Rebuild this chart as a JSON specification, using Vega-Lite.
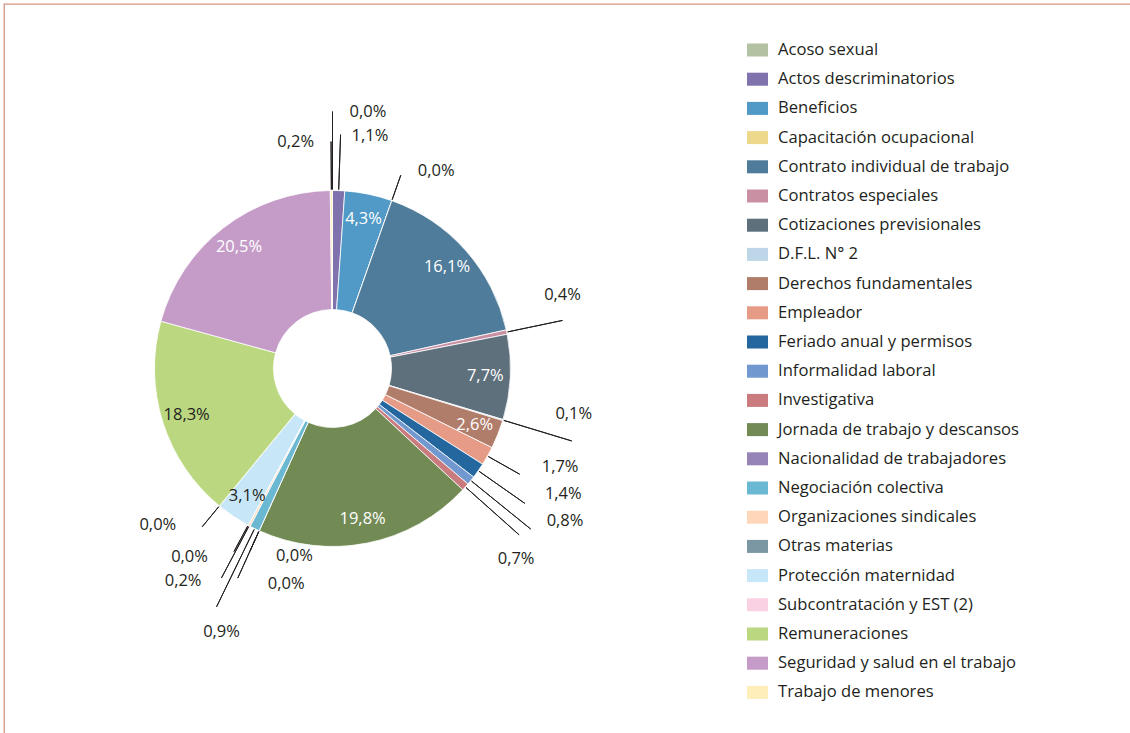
{
  "$schema": "https://vega.github.io/schema/vega-lite/v6.json",
  "width": 1127,
  "height": 730,
  "padding": {"left": 4, "top": 4, "right": -1, "bottom": -1},
  "autosize": {"type": "none"},
  "background": "#ffffff",
  "config": {
    "view": {"stroke": "#d9927f", "strokeWidth": 1.3},
    "text": {"font": "Open Sans", "fontSize": 16.5, "baseline": "middle", "color": "#231f20"}
  },
  "data": {
    "values": [
      {"i": 1, "cat": "Acoso sexual", "v": 0, "lab": "0,0%"},
      {"i": 2, "cat": "Actos descriminatorios", "v": 1.1, "lab": "1,1%"},
      {"i": 3, "cat": "Beneficios", "v": 4.3, "lab": "4,3%"},
      {"i": 4, "cat": "Capacitación ocupacional", "v": 0, "lab": "0,0%"},
      {"i": 5, "cat": "Contrato individual de trabajo", "v": 16.1, "lab": "16,1%"},
      {"i": 6, "cat": "Contratos especiales", "v": 0.4, "lab": "0,4%"},
      {"i": 7, "cat": "Cotizaciones previsionales", "v": 7.7, "lab": "7,7%"},
      {"i": 8, "cat": "D.F.L. N° 2", "v": 0.1, "lab": "0,1%"},
      {"i": 9, "cat": "Derechos fundamentales", "v": 2.6, "lab": "2,6%"},
      {"i": 10, "cat": "Empleador", "v": 1.7, "lab": "1,7%"},
      {"i": 11, "cat": "Feriado anual y permisos", "v": 1.4, "lab": "1,4%"},
      {"i": 12, "cat": "Informalidad laboral", "v": 0.8, "lab": "0,8%"},
      {"i": 13, "cat": "Investigativa", "v": 0.7, "lab": "0,7%"},
      {"i": 14, "cat": "Jornada de trabajo y descansos", "v": 19.8, "lab": "19,8%"},
      {"i": 15, "cat": "Nacionalidad de trabajadores", "v": 0, "lab": "0,0%"},
      {"i": 16, "cat": "Sin leyenda", "v": 0, "lab": "0,0%"},
      {"i": 17, "cat": "Negociación colectiva", "v": 0.9, "lab": "0,9%"},
      {"i": 18, "cat": "Organizaciones sindicales", "v": 0.2, "lab": "0,2%"},
      {"i": 19, "cat": "Otras materias", "v": 0, "lab": "0,0%"},
      {"i": 20, "cat": "Protección maternidad", "v": 3.1, "lab": "3,1%"},
      {"i": 21, "cat": "Subcontratación y EST (2)", "v": 0, "lab": "0,0%"},
      {"i": 22, "cat": "Remuneraciones", "v": 18.3, "lab": "18,3%"},
      {"i": 23, "cat": "Seguridad y salud en el trabajo", "v": 20.5, "lab": "20,5%"},
      {"i": 24, "cat": "Trabajo de menores", "v": 0.2, "lab": "0,2%"}
    ]
  },
  "transform": [
    {"stack": "v", "groupby": [], "sort": [{"field": "i", "order": "ascending"}], "as": ["s0", "s1"]},
    {"calculate": "(datum.s0 + datum.s1) / 2", "as": "mid"}
  ],
  "layer": [
    {
      "mark": {"type": "point", "opacity": 0},
      "encoding": {
        "x": {"field": "i", "type": "quantitative", "axis": null},
        "y": {"field": "v", "type": "quantitative", "axis": null}
      }
    },
    {
      "transform": [{"filter": "datum.cat !== 'Sin leyenda'"}],
      "mark": {"type": "arc", "x": 328.5, "y": 364.5, "radius": 178, "radius2": 59, "stroke": "#ffffff", "strokeWidth": 0.8},
      "encoding": {
        "theta": {"field": "s0", "type": "quantitative", "stack": null, "scale": {"domain": [0, 99.9]}},
        "theta2": {"field": "s1"},
        "color": {
          "field": "cat", "type": "nominal",
          "scale": {
            "domain": ["Acoso sexual", "Actos descriminatorios", "Beneficios", "Capacitación ocupacional", "Contrato individual de trabajo", "Contratos especiales", "Cotizaciones previsionales", "D.F.L. N° 2", "Derechos fundamentales", "Empleador", "Feriado anual y permisos", "Informalidad laboral", "Investigativa", "Jornada de trabajo y descansos", "Nacionalidad de trabajadores", "Negociación colectiva", "Organizaciones sindicales", "Otras materias", "Protección maternidad", "Subcontratación y EST (2)", "Remuneraciones", "Seguridad y salud en el trabajo", "Trabajo de menores"],
            "range": ["#b4c2a4", "#7f72ad", "#5199c6", "#eed88c", "#4e7c9a", "#c98fa3", "#5f707d", "#bdd7e9", "#b07d6b", "#e69b87", "#24679f", "#7198cf", "#c97b7d", "#728b55", "#9584b5", "#6bb8d3", "#fed6b9", "#7a97a3", "#c7e7f8", "#f9d1e3", "#bbd881", "#c59bc8", "#feeeb9"]
          },
          "legend": {
            "orient": "none", "legendX": 743, "legendY": 35.5, "title": null,
            "symbolType": "M-1,-0.62H1V0.62H-1Z", "symbolSize": 441, "symbolStrokeWidth": 0, "symbolOpacity": 1,
            "labelFont": "Open Sans", "labelFontSize": 16.6, "labelColor": "#231f20", "labelOffset": 10,
            "rowPadding": 9.2, "labelLimit": 400
          }
        }
      }
    },
    {
      "transform": [{"filter": "datum.v >= 2.5"}],
      "mark": {"type": "text", "x": 328.5, "y": 364.5, "radius": 153, "align": "center"},
      "encoding": {
        "theta": {"field": "mid", "type": "quantitative", "stack": null, "scale": {"domain": [0, 99.9]}},
        "text": {"field": "lab"},
        "color": {"condition": {"test": "datum.cat === 'Remuneraciones' || datum.cat === 'Protección maternidad'", "value": "#231f20"}, "value": "#ffffff"}
      }
    },
    {"transform": [{"filter": "datum.i === 1"}], "layer": [
      {"mark": {"type": "arc", "x": 328.5, "y": 364.5, "radius": 257, "radius2": 179, "fillOpacity": 0, "stroke": "#231f20", "strokeWidth": 1}, "encoding": {"theta": {"field": "mid", "type": "quantitative", "stack": null, "scale": {"domain": [0, 99.9]}}, "theta2": {"field": "mid"}}},
      {"mark": {"type": "text", "x": 328.5, "y": 364.5, "radius": 257, "align": "left", "dx": 17, "dy": 0}, "encoding": {"theta": {"field": "mid", "type": "quantitative", "stack": null, "scale": {"domain": [0, 99.9]}}, "text": {"field": "lab"}}}
    ]},
    {"transform": [{"filter": "datum.i === 2"}], "layer": [
      {"mark": {"type": "arc", "x": 328.5, "y": 364.5, "radius": 234, "radius2": 179, "fillOpacity": 0, "stroke": "#231f20", "strokeWidth": 1}, "encoding": {"theta": {"field": "mid", "type": "quantitative", "stack": null, "scale": {"domain": [0, 99.9]}}, "theta2": {"field": "mid"}}},
      {"mark": {"type": "text", "x": 328.5, "y": 364.5, "radius": 234, "align": "left", "dx": 11, "dy": 1}, "encoding": {"theta": {"field": "mid", "type": "quantitative", "stack": null, "scale": {"domain": [0, 99.9]}}, "text": {"field": "lab"}}}
    ]},
    {"transform": [{"filter": "datum.i === 24"}], "layer": [
      {"mark": {"type": "arc", "x": 328.5, "y": 364.5, "radius": 227, "radius2": 179, "fillOpacity": 0, "stroke": "#231f20", "strokeWidth": 1}, "encoding": {"theta": {"field": "mid", "type": "quantitative", "stack": null, "scale": {"domain": [0, 99.9]}}, "theta2": {"field": "mid"}}},
      {"mark": {"type": "text", "x": 328.5, "y": 364.5, "radius": 227, "align": "right", "dx": -17, "dy": 0}, "encoding": {"theta": {"field": "mid", "type": "quantitative", "stack": null, "scale": {"domain": [0, 99.9]}}, "text": {"field": "lab"}}}
    ]},
    {"transform": [{"filter": "datum.i === 4"}], "layer": [
      {"mark": {"type": "arc", "x": 328.5, "y": 364.5, "radius": 205, "radius2": 179, "fillOpacity": 0, "stroke": "#231f20", "strokeWidth": 1}, "encoding": {"theta": {"field": "mid", "type": "quantitative", "stack": null, "scale": {"domain": [0, 99.9]}}, "theta2": {"field": "mid"}}},
      {"mark": {"type": "text", "x": 328.5, "y": 364.5, "radius": 205, "align": "left", "dx": 17, "dy": -4}, "encoding": {"theta": {"field": "mid", "type": "quantitative", "stack": null, "scale": {"domain": [0, 99.9]}}, "text": {"field": "lab"}}}
    ]},
    {"transform": [{"filter": "datum.i === 6"}], "layer": [
      {"mark": {"type": "arc", "x": 328.5, "y": 364.5, "radius": 235, "radius2": 179, "fillOpacity": 0, "stroke": "#231f20", "strokeWidth": 1}, "encoding": {"theta": {"field": "mid", "type": "quantitative", "stack": null, "scale": {"domain": [0, 99.9]}}, "theta2": {"field": "mid"}}},
      {"mark": {"type": "text", "x": 328.5, "y": 364.5, "radius": 235, "align": "center", "dx": 0, "dy": -25}, "encoding": {"theta": {"field": "mid", "type": "quantitative", "stack": null, "scale": {"domain": [0, 99.9]}}, "text": {"field": "lab"}}}
    ]},
    {"transform": [{"filter": "datum.i === 8"}], "layer": [
      {"mark": {"type": "arc", "x": 328.5, "y": 364.5, "radius": 250, "radius2": 179, "fillOpacity": 0, "stroke": "#231f20", "strokeWidth": 1}, "encoding": {"theta": {"field": "mid", "type": "quantitative", "stack": null, "scale": {"domain": [0, 99.9]}}, "theta2": {"field": "mid"}}},
      {"mark": {"type": "text", "x": 328.5, "y": 364.5, "radius": 250, "align": "center", "dx": 2, "dy": -27}, "encoding": {"theta": {"field": "mid", "type": "quantitative", "stack": null, "scale": {"domain": [0, 99.9]}}, "text": {"field": "lab"}}}
    ]},
    {"transform": [{"filter": "datum.i === 10"}], "layer": [
      {"mark": {"type": "arc", "x": 328.5, "y": 364.5, "radius": 215, "radius2": 179, "fillOpacity": 0, "stroke": "#231f20", "strokeWidth": 1}, "encoding": {"theta": {"field": "mid", "type": "quantitative", "stack": null, "scale": {"domain": [0, 99.9]}}, "theta2": {"field": "mid"}}},
      {"mark": {"type": "text", "x": 328.5, "y": 364.5, "radius": 215, "align": "left", "dx": 22, "dy": -7}, "encoding": {"theta": {"field": "mid", "type": "quantitative", "stack": null, "scale": {"domain": [0, 99.9]}}, "text": {"field": "lab"}}}
    ]},
    {"transform": [{"filter": "datum.i === 11"}], "layer": [
      {"mark": {"type": "arc", "x": 328.5, "y": 364.5, "radius": 235, "radius2": 179, "fillOpacity": 0, "stroke": "#231f20", "strokeWidth": 1}, "encoding": {"theta": {"field": "mid", "type": "quantitative", "stack": null, "scale": {"domain": [0, 99.9]}}, "theta2": {"field": "mid"}}},
      {"mark": {"type": "text", "x": 328.5, "y": 364.5, "radius": 235, "align": "left", "dx": 20, "dy": -9}, "encoding": {"theta": {"field": "mid", "type": "quantitative", "stack": null, "scale": {"domain": [0, 99.9]}}, "text": {"field": "lab"}}}
    ]},
    {"transform": [{"filter": "datum.i === 12"}], "layer": [
      {"mark": {"type": "arc", "x": 328.5, "y": 364.5, "radius": 255, "radius2": 179, "fillOpacity": 0, "stroke": "#231f20", "strokeWidth": 1}, "encoding": {"theta": {"field": "mid", "type": "quantitative", "stack": null, "scale": {"domain": [0, 99.9]}}, "theta2": {"field": "mid"}}},
      {"mark": {"type": "text", "x": 328.5, "y": 364.5, "radius": 255, "align": "left", "dx": 16, "dy": -8}, "encoding": {"theta": {"field": "mid", "type": "quantitative", "stack": null, "scale": {"domain": [0, 99.9]}}, "text": {"field": "lab"}}}
    ]},
    {"transform": [{"filter": "datum.i === 13"}], "layer": [
      {"mark": {"type": "arc", "x": 328.5, "y": 364.5, "radius": 250, "radius2": 179, "fillOpacity": 0, "stroke": "#231f20", "strokeWidth": 1}, "encoding": {"theta": {"field": "mid", "type": "quantitative", "stack": null, "scale": {"domain": [0, 99.9]}}, "theta2": {"field": "mid"}}},
      {"mark": {"type": "text", "x": 328.5, "y": 364.5, "radius": 250, "align": "center", "dx": -3, "dy": 24}, "encoding": {"theta": {"field": "mid", "type": "quantitative", "stack": null, "scale": {"domain": [0, 99.9]}}, "text": {"field": "lab"}}}
    ]},
    {"transform": [{"filter": "datum.i === 15"}], "layer": [
      {"mark": {"type": "arc", "x": 328.5, "y": 364.5, "radius": 200, "radius2": 179, "fillOpacity": 0, "stroke": "#231f20", "strokeWidth": 1}, "encoding": {"theta": {"field": "mid", "type": "quantitative", "stack": null, "scale": {"domain": [0, 99.9]}}, "theta2": {"field": "mid"}}},
      {"mark": {"type": "text", "x": 328.5, "y": 364.5, "radius": 200, "align": "left", "dx": 26, "dy": 5}, "encoding": {"theta": {"field": "mid", "type": "quantitative", "stack": null, "scale": {"domain": [0, 99.9]}}, "text": {"field": "lab"}}}
    ]},
    {"transform": [{"filter": "datum.i === 16"}], "layer": [
      {"mark": {"type": "arc", "x": 328.5, "y": 364.5, "radius": 230, "radius2": 179, "fillOpacity": 0, "stroke": "#231f20", "strokeWidth": 1}, "encoding": {"theta": {"field": "mid", "type": "quantitative", "stack": null, "scale": {"domain": [0, 99.9]}}, "theta2": {"field": "mid"}}},
      {"mark": {"type": "text", "x": 328.5, "y": 364.5, "radius": 230, "align": "left", "dx": 30, "dy": 6}, "encoding": {"theta": {"field": "mid", "type": "quantitative", "stack": null, "scale": {"domain": [0, 99.9]}}, "text": {"field": "lab"}}}
    ]},
    {"transform": [{"filter": "datum.i === 17"}], "layer": [
      {"mark": {"type": "arc", "x": 328.5, "y": 364.5, "radius": 265, "radius2": 179, "fillOpacity": 0, "stroke": "#231f20", "strokeWidth": 1}, "encoding": {"theta": {"field": "mid", "type": "quantitative", "stack": null, "scale": {"domain": [0, 99.9]}}, "theta2": {"field": "mid"}}},
      {"mark": {"type": "text", "x": 328.5, "y": 364.5, "radius": 265, "align": "center", "dx": 5, "dy": 25}, "encoding": {"theta": {"field": "mid", "type": "quantitative", "stack": null, "scale": {"domain": [0, 99.9]}}, "text": {"field": "lab"}}}
    ]},
    {"transform": [{"filter": "datum.i === 18"}], "layer": [
      {"mark": {"type": "arc", "x": 328.5, "y": 364.5, "radius": 237, "radius2": 179, "fillOpacity": 0, "stroke": "#231f20", "strokeWidth": 1}, "encoding": {"theta": {"field": "mid", "type": "quantitative", "stack": null, "scale": {"domain": [0, 99.9]}}, "theta2": {"field": "mid"}}},
      {"mark": {"type": "text", "x": 328.5, "y": 364.5, "radius": 237, "align": "right", "dx": -20, "dy": 3}, "encoding": {"theta": {"field": "mid", "type": "quantitative", "stack": null, "scale": {"domain": [0, 99.9]}}, "text": {"field": "lab"}}}
    ]},
    {"transform": [{"filter": "datum.i === 19"}], "layer": [
      {"mark": {"type": "arc", "x": 328.5, "y": 364.5, "radius": 208, "radius2": 179, "fillOpacity": 0, "stroke": "#231f20", "strokeWidth": 1}, "encoding": {"theta": {"field": "mid", "type": "quantitative", "stack": null, "scale": {"domain": [0, 99.9]}}, "theta2": {"field": "mid"}}},
      {"mark": {"type": "text", "x": 328.5, "y": 364.5, "radius": 208, "align": "right", "dx": -26, "dy": 5}, "encoding": {"theta": {"field": "mid", "type": "quantitative", "stack": null, "scale": {"domain": [0, 99.9]}}, "text": {"field": "lab"}}}
    ]},
    {"transform": [{"filter": "datum.i === 21"}], "layer": [
      {"mark": {"type": "arc", "x": 328.5, "y": 364.5, "radius": 205, "radius2": 179, "fillOpacity": 0, "stroke": "#231f20", "strokeWidth": 1}, "encoding": {"theta": {"field": "mid", "type": "quantitative", "stack": null, "scale": {"domain": [0, 99.9]}}, "theta2": {"field": "mid"}}},
      {"mark": {"type": "text", "x": 328.5, "y": 364.5, "radius": 205, "align": "right", "dx": -26, "dy": -2}, "encoding": {"theta": {"field": "mid", "type": "quantitative", "stack": null, "scale": {"domain": [0, 99.9]}}, "text": {"field": "lab"}}}
    ]}
  ]
}
